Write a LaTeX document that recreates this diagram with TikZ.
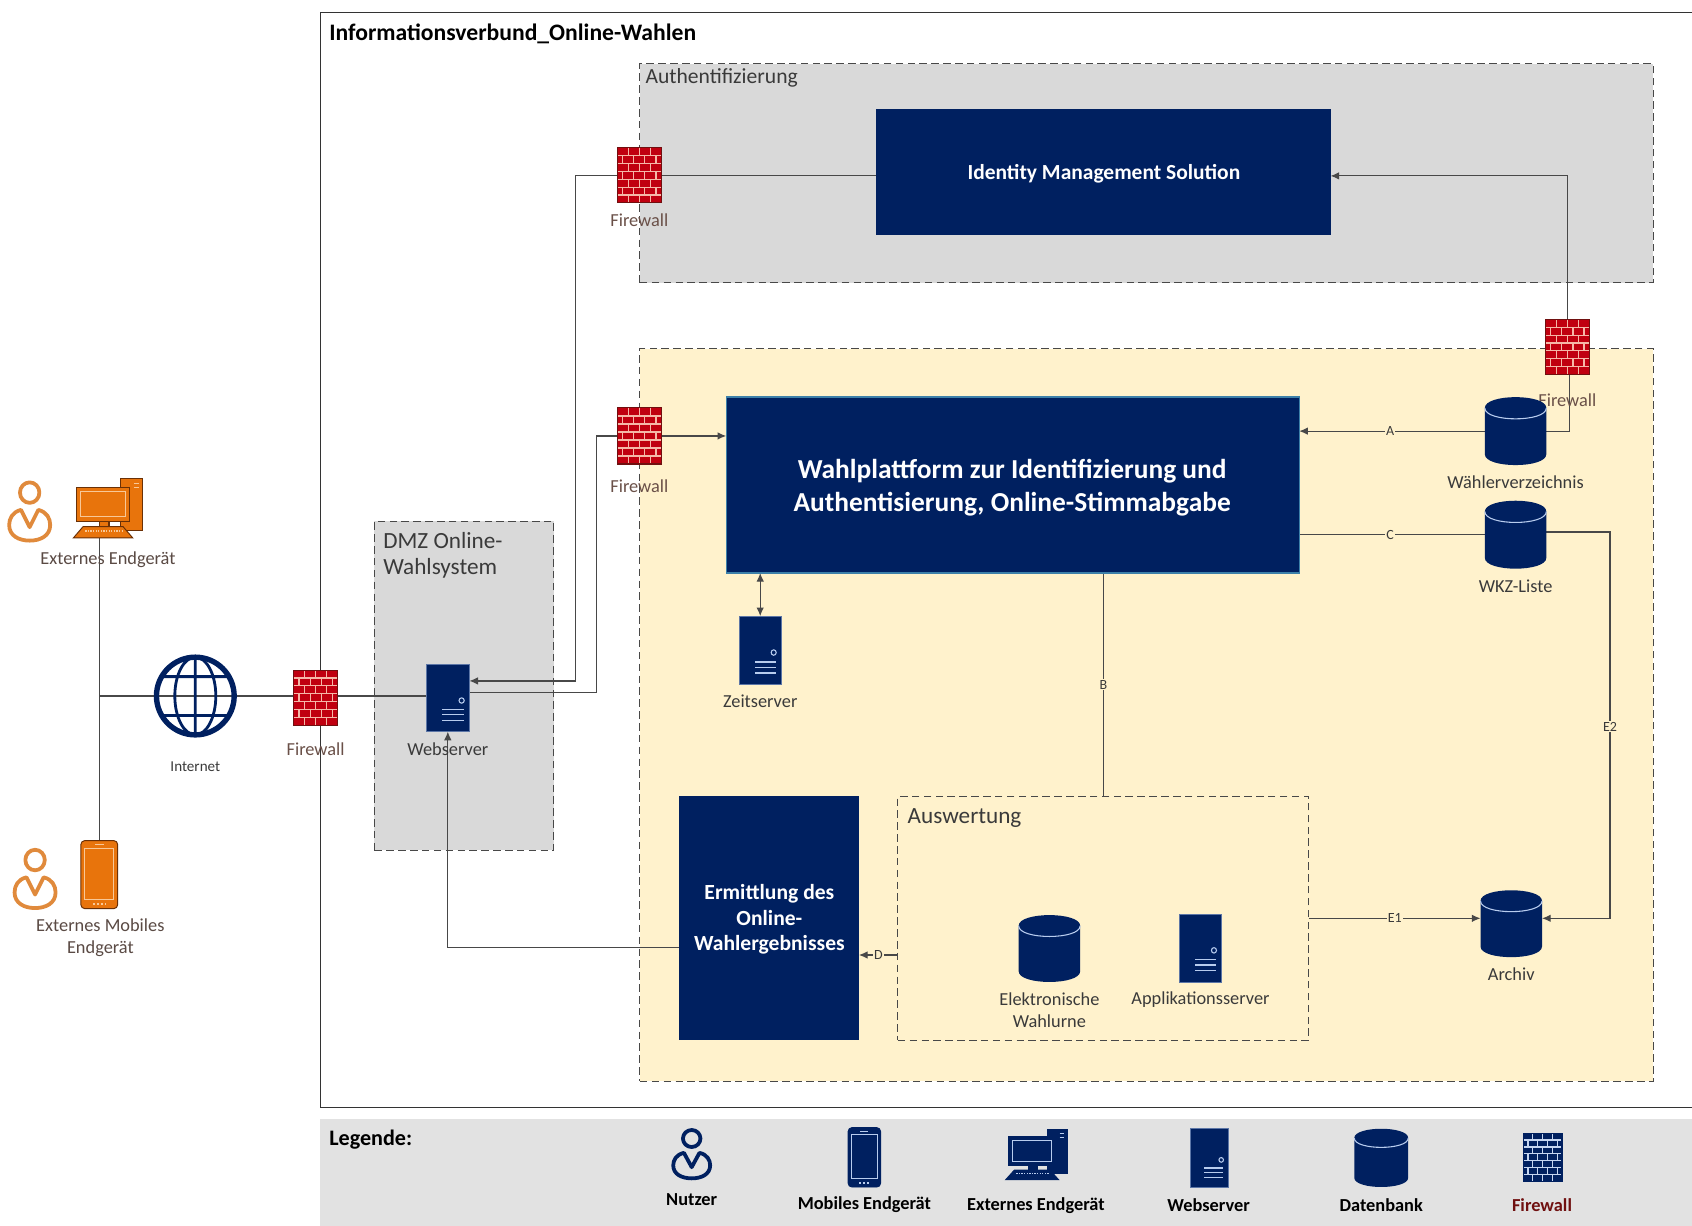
\documentclass[tikz,border=0pt]{standalone}
\usepackage{fontspec}
\setmainfont{Carlito}
\usetikzlibrary{arrows.meta,calc}
\definecolor{navy}{HTML}{002060}
\definecolor{navyline}{HTML}{B8CCEE}
\definecolor{fwred}{HTML}{C00010}
\definecolor{fwmortar}{HTML}{F5B8A8}
\definecolor{fwedge}{HTML}{701010}
\definecolor{orng}{HTML}{E8740C}
\definecolor{orngedge}{HTML}{6A3006}
\definecolor{orngline}{HTML}{F8C898}
\definecolor{persono}{HTML}{E08A3C}
\definecolor{groupgray}{HTML}{D9D9D9}
\definecolor{legendgray}{HTML}{E2E2E2}
\definecolor{yel}{HTML}{FFF2CC}
\definecolor{linecol}{HTML}{484848}
\definecolor{labcol}{HTML}{3A3A3A}
\definecolor{orlab}{HTML}{5A4A44}
\definecolor{fwlab}{HTML}{6A5048}
\pgfdeclarelayer{bg}\pgfdeclarelayer{conn}
\pgfsetlayers{bg,conn,main}
\tikzset{
 iconbox/.style={inner sep=0pt,outer sep=0pt,draw=none},
 group/.style={draw=linecol,line width=1pt,dash pattern=on 7pt off 4pt,anchor=north west,inner sep=0pt,outer sep=0pt},
 navybox/.style={fill=navy,anchor=north west,inner sep=0pt,outer sep=0pt},
 lab/.style={text=labcol,align=center,inner sep=0pt,font=\fontsize{17}{21}\selectfont},
 orl/.style={lab,text=orlab},
 fwl/.style={lab,text=fwlab},
 grouplab/.style={text=labcol,anchor=west,inner sep=0pt,align=left,font=\fontsize{21.5}{23.5}\selectfont},
 legl/.style={text=black,inner sep=0pt,font=\bfseries\fontsize{17}{19}\selectfont},
 conn/.style={draw=linecol,line width=1.1pt},
 arr/.style={conn,-{Latex[length=8pt,width=7pt]}},
 elab/.style={fill=yel,inner sep=1pt,text=labcol,font=\fontsize{13}{14}\selectfont},
}
% #1 name #2 cx #3 cy #4 w #5 h #6 fill #7 mortar #8 edge
\newcommand\FW[8]{%
 \node[iconbox,minimum width=#4pt,minimum height=#5pt] (#1) at (#2,#3) {};
 \begin{scope}[shift={(#2,#3)},xscale=#4/100,yscale=#5/100]
  \fill[#6] (-50,-50) rectangle (50,50);
  \foreach \r in {1,...,6} {\draw[#7,line width=1.1pt] (-50,{-50+\r*100/7}) -- (50,{-50+\r*100/7});}
  \foreach \r in {0,2,4,6} {\foreach \c in {-25,0,25} {\draw[#7,line width=1.1pt] (\c,{-50+\r*100/7}) -- (\c,{-50+(\r+1)*100/7});}}
  \foreach \r in {1,3,5} {\foreach \c in {-37.5,-12.5,12.5,37.5} {\draw[#7,line width=1.1pt] (\c,{-50+\r*100/7}) -- (\c,{-50+(\r+1)*100/7});}}
  \draw[#8,line width=1pt] (-50,-50) rectangle (50,50);
 \end{scope}}
% #1 name #2 cx #3 cy #4 w #5 h
\newcommand\SRV[5]{%
 \node[iconbox,minimum width=#4pt,minimum height=#5pt] (#1) at (#2,#3) {};
 \begin{scope}[shift={(#2,#3)},xscale=#4/100,yscale=#5/100]
  \fill[navy] (-50,-50) rectangle (50,50);
  \draw[navyline!50!navy,line width=.6pt] (-50,-50) rectangle (50,50);
  \draw[navyline,line width=1pt] (32,3.5) circle[x radius=6,y radius=4];
  \draw[navyline,line width=1.1pt] (-13,17.5) -- (38,17.5) (-13,25) -- (38,25) (-13,33.5) -- (38,33.5);
 \end{scope}}
\newcommand\DB[5]{%
 \node[iconbox,minimum width=#4pt,minimum height=#5pt] (#1) at (#2,#3) {};
 \begin{scope}[shift={(#2,#3)},xscale=#4/100,yscale=#5/100]
  \fill[navy] (-50,-34) .. controls (-50,-55.3) and (50,-55.3) .. (50,-34) -- (50,34) .. controls (50,55.3) and (-50,55.3) .. (-50,34) -- cycle;
  \draw[navyline,line width=1pt] (-50,-34) .. controls (-50,-12.7) and (50,-12.7) .. (50,-34);
 \end{scope}}
% #1 name #2 cx #3 cy #4 scale x #5 scale y #6 colour
\newcommand\PERSON[6]{%
 \node[iconbox,minimum width=40*#4 pt,minimum height=59*#5 pt] (#1) at (#2,#3) {};
 \begin{scope}[shift={(#2,#3)},xscale=#4,yscale=#5,draw=#6,line width=3.5pt,line join=round]
  \draw (0,-18) circle[x radius=9,y radius=9.5];
  \draw (-8,-2) -- (0,14) -- (8,-2) .. controls (16,0) and (19,6) .. (19,12) .. controls (19,22) and (10,26.5) .. (0,26.5) .. controls (-10,26.5) and (-19,22) .. (-19,12) .. controls (-19,6) and (-16,0) .. (-8,-2) -- cycle;
 \end{scope}}
% #1 name #2 cx #3 cy #4 w #5 h #6 fill #7 inner #8 edge
\newcommand\PHONE[8]{%
 \node[iconbox,minimum width=#4pt,minimum height=#5pt] (#1) at (#2,#3) {};
 \begin{scope}[shift={(#2,#3)},xscale=#4/100,yscale=#5/100]
  \fill[#6,draw=#8,line width=.9pt,rounded corners=3.5pt] (-50,-50) rectangle (50,50);
  \draw[#7,line width=.9pt] (-40,-38) rectangle (40,36);
  \draw[#7,line width=1pt] (-12,-44) -- (12,-44);
  \draw[#7,line width=1.4pt,dash pattern=on 1.6pt off 2pt] (-16,43) -- (18,43);
 \end{scope}}
% #1 name #2 cx #3 cy #4 sx #5 sy #6 fill #7 inner #8 edge
\newcommand\COMP[8]{%
 \node[iconbox,minimum width=65*#4 pt,minimum height=57*#5 pt] (#1) at (#2,#3) {};
 \begin{scope}[shift={(#2,#3)},xscale=#4,yscale=#5,yshift=-4pt]
  \fill[#6,draw=#8,line width=1pt] (12,-30.5) rectangle (32,18);
  \draw[#7,line width=1pt] (24,-26) -- (29,-26) (24,-22) -- (29,-22);
  \fill[#6,draw=#8,line width=1pt] (-8,9) rectangle (1,14);
  \fill[#6,draw=#8,line width=1.2pt] (-29,-22.5) rectangle (20,9);
  \draw[#7,line width=1pt] (-25,-18.5) rectangle (16,5);
  \fill[#6,draw=#8,line width=.9pt] (-23,14) -- (14,14) -- (23,24.5) -- (-32,24.5) -- cycle;
  \draw[#7,line width=1.4pt,dash pattern=on 1.2pt off 1.2pt] (-21,18) -- (13,18);
 \end{scope}}
\begin{document}
\begin{tikzpicture}[x=1pt,y=-1pt]
\useasboundingbox (0,0) rectangle (1568,1136);
\begin{pgfonlayer}{bg}
 \fill[white] (0,0) rectangle (1568,1136);
 \fill[legendgray] (297,1037) rectangle (1568,1136);
 \draw[black!80,line width=1pt] (1568,12) -- (297,12) -- (297,1026) -- (1568,1026);
 \node[group,fill=groupgray,minimum width=939pt,minimum height=203pt] (auth) at (593,59) {};
 \node[group,fill=yel,minimum width=939pt,minimum height=679pt] (plat) at (593,323) {};
 \node[group,fill=groupgray,minimum width=166pt,minimum height=305pt] (dmz) at (347,483) {};
 \node[group,minimum width=381pt,minimum height=226pt] (ausw) at (832,738) {};
\end{pgfonlayer}
\node[anchor=west,inner sep=0pt,font=\bfseries\fontsize{21.9}{24}\selectfont] (title) at (305,31) {Informationsverbund\_Online-Wahlen};
\node[grouplab,font=\fontsize{20}{24}\selectfont] (authl) at (598,72) {Authentifizierung};
\node[grouplab] (dmzl) at (355,514.5) {DMZ Online-\\Wahlsystem};
\node[grouplab] (auswl) at (841,758) {Auswertung};
% navy boxes
\node[navybox,minimum width=421pt,minimum height=117pt] (idm) at (812,101) {};
\node[font=\bfseries\fontsize{19.9}{22}\selectfont,text=white,inner sep=0pt] (idmt) at (1023,161) {Identity Management Solution};
\node[navybox,draw=cyan!50!navy,line width=1.2pt,minimum width=531pt,minimum height=163pt] (wahl) at (673,368) {};
\node[font=\bfseries\fontsize{25.4}{31}\selectfont,text=white,align=center,inner sep=0pt] (wahlt) at (938,452) {Wahlplattform zur Identifizierung und\\Authentisierung, Online-Stimmabgabe};
\node[navybox,minimum width=167pt,minimum height=226pt] (erm) at (629,738) {};
\node[font=\bfseries\fontsize{20}{23.5}\selectfont,text=white,align=center,inner sep=0pt] (ermt) at (713,852) {Ermittlung des\\Online-\\Wahlergebnisses};
% firewalls
\FW{fwa}{592.5}{162.5}{41}{51}{fwred}{fwmortar}{fwedge}
\FW{fwb}{592.5}{404}{41}{52}{fwred}{fwmortar}{fwedge}
\FW{fwc}{292.5}{646.5}{41}{51}{fwred}{fwmortar}{fwedge}
\FW{fwd}{1452.5}{321.5}{41}{51}{fwred}{fwmortar}{fwedge}
\node[fwl] (fwal) at (592.5,204) {Firewall};
\node[fwl] (fwbl) at (592.5,451) {Firewall};
\node[fwl] (fwcl) at (292.5,694.5) {Firewall};
\node[fwl] (fwdl) at (1452.5,370.5) {Firewall};
% servers
\SRV{web}{415}{647}{40}{62}
\SRV{zeit}{704.5}{602.5}{39}{63}
\SRV{app}{1112.5}{878.5}{39}{63}
\node[lab] (webl) at (415,694.5) {Webserver};
\node[lab] (zeitl) at (704.5,650) {Zeitserver};
\node[lab] (appl) at (1112.5,926) {Applikationsserver};
% databases
\DB{wv}{1404.5}{399.5}{57}{63}
\DB{wkz}{1404.5}{495.5}{57}{63}
\DB{urne}{972.5}{879}{57}{62}
\DB{arch}{1400.5}{856}{57}{62}
\node[lab] (wvl) at (1404.5,447) {Wählerverzeichnis};
\node[lab] (wkzl) at (1404.5,543.5) {WKZ-Liste};
\node[lab] (urnel) at (972.5,936) {Elektronische\\Wahlurne};
\node[lab] (archl) at (1400.5,903) {Archiv};
% internet
\node[iconbox,minimum size=76pt,circle] (net) at (181,645) {};
\draw[navy,line width=5pt] (181,645) circle[radius=36];
\draw[navy,line width=2.6pt] (181,645) circle[x radius=19,y radius=36] (181,609) -- (181,681) (150,627) -- (212,627) (150,663) -- (212,663);
\node[lab,font=\fontsize{14}{16}\selectfont] (netl) at (181,710.5) {Internet};
% external devices
\PERSON{pa}{27.5}{474.5}{1}{1}{persono}
\PERSON{pb}{32.5}{815}{1}{1}{persono}
\COMP{ca}{100}{470}{1}{1}{orng}{orngline}{orngedge}
\PHONE{pha}{92}{810.5}{34}{63}{orng}{orngline}{orngedge}
\node[orl] (cal) at (100,518.5) {Externes Endgerät};
\node[orl] (phal) at (93,869) {Externes Mobiles\\Endgerät};
% connectors
\begin{pgfonlayer}{conn}
 \coordinate (j) at (92,645);
 \draw[conn] (j |- ca.south) -- (j |- pha.north);
 \draw[conn] (j) -- (net.center) -- (net.east);
 \draw[conn] (net.east) -- (net.east -| fwc.west);
 \draw[conn] (fwc.east |- j) -- (web.west |- j);
 \draw[conn] (fwa.east) -- (idm.west |- fwa.east);
 \draw[arr] (fwa.west) -| (533,631) -- (web.east |- 0,631);
 \draw[conn] (web.east |- 0,642) -| (553,404) -- (fwb.west);
 \draw[arr] (fwb.east) -- (wahl.west |- fwb.east);
 \draw[arr] (fwd.north) |- (idm.east |- 0,163);
 \draw[conn] ([xshift=2pt]fwd.south) |- (wv.east |- 0,400);
 \draw[arr] (wv.west) -- (wahl.east |- wv.west) node[elab,pos=.51] (la) {A};
 \draw[conn] (wkz.west) -- (wahl.east |- wkz.west) node[elab,pos=.51] (lc) {C};
 \draw[arr] (wkz.east |- 0,493) -| (1492,851) -- (arch.east |- 0,851);
 \node[elab] (le) at (1492,673.5) {E2};
 \draw[conn] (wahl.south -| ausw.north) -- (ausw.north) node[elab,pos=.5] (lb) {B};
 \draw[arr] (ausw.east |- 0,851) -- (arch.west |- 0,851) node[elab,pos=.5] (lf) {E1};
 \draw[arr] (ausw.west |- 0,885) -- (erm.east |- 0,885) node[elab,pos=.5] (ld) {D};
 \draw[arr] (erm.west |- 0,878) -| (web.south);
 \draw[{Latex[length=8pt,width=7pt]}-{Latex[length=8pt,width=7pt]},conn] (zeit.north |- wahl.south) -- (zeit.north);
\end{pgfonlayer}
% legend
\node[anchor=west,inner sep=0pt,font=\bfseries\fontsize{20.5}{24}\selectfont] (legt) at (305,1056) {Legende:};
\PERSON{lp}{641}{1070}{.9}{.83}{navy}
\PHONE{lm}{801}{1072.5}{30}{55}{navy}{navyline}{navy}
\COMP{lc2}{960.5}{1069}{.89}{.85}{navy}{navyline}{navy}
\SRV{ls}{1120.5}{1073}{35}{54}
\DB{ld2}{1280}{1073}{50}{54}
\FW{lf2}{1429.5}{1072.5}{36}{45}{navy}{navyline!80!white}{navy}
\node[legl] (l1) at (641,1112) {Nutzer};
\node[legl] (l2) at (801,1116) {Mobiles Endgerät};
\node[legl] (l3) at (960,1117) {Externes Endgerät};
\node[legl] (l4) at (1120,1117) {Webserver};
\node[legl] (l5) at (1280,1117) {Datenbank};
\node[legl,text=fwedge] (l6) at (1429,1116.5) {Firewall};
\end{tikzpicture}
\end{document}
